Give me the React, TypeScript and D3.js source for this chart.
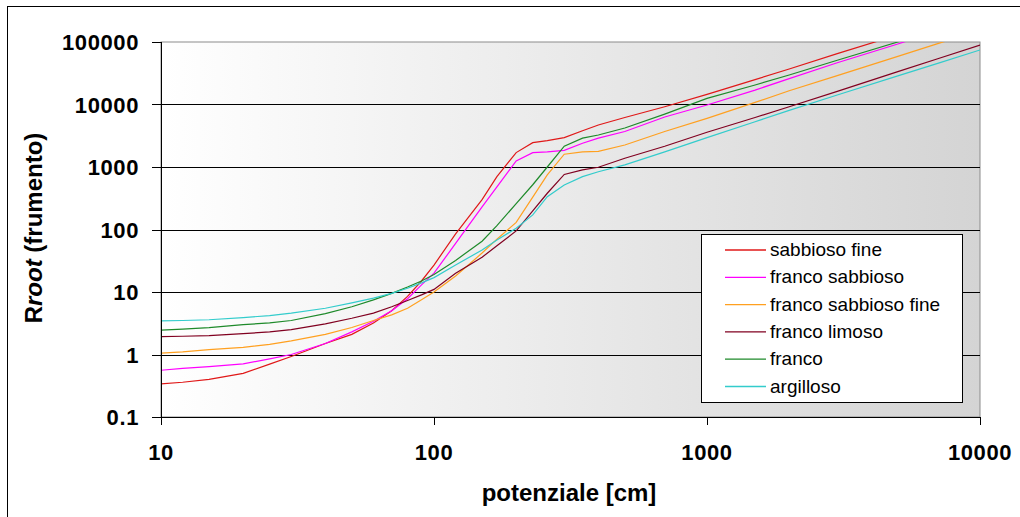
import React from 'react';
import * as d3 from 'd3';

// potenziale [cm]
const potenziale = [10, 12, 15, 20, 25, 30, 40, 50, 60, 70, 80, 90, 100, 120, 150, 170, 200, 230, 260, 300, 350, 400, 500, 700, 1000, 1500, 2000, 3000, 5000, 7000, 10000];

const sabbiosoFine = [0.34, 0.36, 0.4, 0.5, 0.7, 0.93, 1.5, 2.1, 3.2, 5.0, 8.5, 15, 27, 85, 300, 700, 1700, 2450, 2650, 2950, 3800, 4700, 6200, 9200, 14500, 25000, 37000, 65000, 130000, 200000, 320000];
const francoSabbioso = [0.56, 0.6, 0.64, 0.71, 0.85, 1.0, 1.5, 2.3, 3.4, 5.0, 7.8, 13, 20, 60, 230, 480, 1250, 1700, 1750, 1850, 2400, 2900, 3700, 6300, 9800, 17000, 26000, 46500, 93000, 150000, 240000];
const francoSabbiosoFine = [1.05, 1.1, 1.2, 1.3, 1.45, 1.65, 2.1, 2.7, 3.5, 4.3, 5.5, 7.5, 10, 18, 42, 70, 130, 330, 750, 1600, 1750, 1780, 2250, 3700, 6000, 10800, 16600, 29000, 59000, 94000, 154000];
const francoLimoso = [1.93, 1.96, 2.0, 2.15, 2.3, 2.5, 3.1, 3.8, 4.6, 5.8, 7.3, 9, 11, 20, 36, 55, 95, 198, 380, 760, 900, 990, 1380, 2150, 3600, 6200, 9200, 16200, 33500, 54000, 89500];
const franco = [2.45, 2.55, 2.7, 3.0, 3.2, 3.5, 4.5, 5.8, 7.5, 9.5, 12, 15, 19, 32, 65, 115, 260, 520, 1000, 2150, 2900, 3250, 4200, 7000, 12500, 20500, 29600, 51000, 100000, 160000, 250000];
const argilloso = [3.45, 3.5, 3.6, 3.9, 4.2, 4.6, 5.5, 6.7, 8.0, 9.5, 11.5, 14, 17, 27, 47, 68, 105, 171, 335, 515, 700, 840, 1080, 1750, 2950, 5300, 8060, 14200, 28700, 45500, 74500];

const seriesNames = ['sabbioso fine', 'franco sabbioso', 'franco sabbioso fine', 'franco limoso', 'franco', 'argilloso'];
const seriesValues = [sabbiosoFine, francoSabbioso, francoSabbiosoFine, francoLimoso, franco, argilloso];
const seriesColors = ['#e01818', '#ff00ff', '#ffa020', '#800020', '#1e8a2a', '#33cccc'];

const yTicks = [0.1, 1, 10, 100, 1000, 10000, 100000];
const xTicks = [10, 100, 1000, 10000];

const FONT = 'Liberation Sans, Arial, sans-serif';

export default function App() {
	const left = 161;
	const right = 980;
	const top = 42;
	const bottom = 417;

	const x = d3.scaleLog().domain([10, 10000]).range([left, right]);
	const y = d3.scaleLog().domain([0.1, 100000]).range([bottom, top]);

	const line = d3
		.line<number>()
		.x((d, i) => x(potenziale[i]))
		.y(d => y(d));

	const fmt = (v: number) => (v < 1 ? String(v) : d3.format('d')(v));

	// legend box
	const lgX = 701;
	const lgY = 234;
	const lgW = 261;
	const lgH = 168;
	const rowStep = 27.3;

	return (
		<svg width={1020} height={517} style={{ position: 'absolute', left: 0, top: 0, background: '#fff' }}>
			<defs>
				<linearGradient id="plotBg" x1="0" y1="0" x2="1" y2="0">
					<stop offset="0" stopColor="#ffffff" />
					<stop offset="1" stopColor="#d4d4d4" />
				</linearGradient>
				<clipPath id="plotClip">
					<rect x={left} y={top} width={right - left} height={bottom - top} />
				</clipPath>
			</defs>
			{/* chart area border */}
			<rect x={7.5} y={6.5} width={1030} height={530} fill="#fff" stroke="#000" strokeWidth={1} />

			{/* plot area */}
			<rect x={left} y={top} width={right - left} height={bottom - top} fill="url(#plotBg)" stroke="#8c8c8c" strokeWidth={1} />

			{/* gridlines */}
			{yTicks.slice(1, -1).map(t => (
				<line key={'g' + t} x1={left} x2={right} y1={Math.round(y(t)) + 0.5} y2={Math.round(y(t)) + 0.5} stroke="#000" strokeWidth={1} />
			))}

			{/* series */}
			<g clipPath="url(#plotClip)">
				{seriesValues.map((vals, i) => (
					<path key={seriesNames[i]} d={line(vals) || ''} fill="none" stroke={seriesColors[i]} strokeWidth={1.2} />
				))}
			</g>

			{/* axes */}
			<line x1={left + 0.5} x2={left + 0.5} y1={top} y2={bottom + 8} stroke="#000" />
			<line x1={left - 9} x2={right} y1={bottom + 0.5} y2={bottom + 0.5} stroke="#000" />
			{yTicks.map(t => (
				<g key={'yt' + t}>
					<line x1={left - 9} x2={left} y1={Math.round(y(t)) + 0.5} y2={Math.round(y(t)) + 0.5} stroke="#000" />
					<text x={139} y={y(t) + 8} textAnchor="end" fontFamily={FONT} fontWeight="bold" fontSize={22} letterSpacing={0.6} fill="#000">
						{fmt(t)}
					</text>
				</g>
			))}
			{xTicks.map(t => (
				<g key={'xt' + t}>
					<line x1={Math.round(x(t)) + 0.5} x2={Math.round(x(t)) + 0.5} y1={bottom} y2={bottom + 8} stroke="#000" />
					<text x={x(t)} y={460} textAnchor="middle" fontFamily={FONT} fontWeight="bold" fontSize={22} letterSpacing={0.6} fill="#000">
						{fmt(t)}
					</text>
				</g>
			))}

			{/* axis titles */}
			<text x={569} y={501} textAnchor="middle" fontFamily={FONT} fontWeight="bold" fontSize={24} fill="#000">
				potenziale [cm]
			</text>
			<text
				transform="translate(42,228) rotate(-90)"
				textAnchor="middle"
				fontFamily={FONT}
				fontWeight="bold"
				fontSize={24}
				fill="#000"
			>
				R<tspan fontStyle="italic">root</tspan> (frumento)
			</text>

			{/* legend */}
			<rect x={lgX + 0.5} y={lgY + 0.5} width={lgW} height={lgH} fill="#fff" stroke="#000" />
			{seriesNames.map((name, i) => {
				const ly = 250 + i * rowStep;
				return (
					<g key={'lg' + name}>
						<line x1={725} x2={766} y1={ly} y2={ly} stroke={seriesColors[i]} strokeWidth={1.3} />
						<text x={770} y={ly + 6} fontFamily={FONT} fontSize={19} fill="#000">
							{name}
						</text>
					</g>
				);
			})}
		</svg>
	);
}
